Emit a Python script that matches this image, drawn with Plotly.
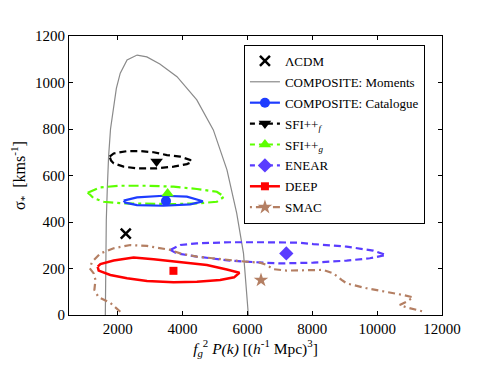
import plotly.graph_objects as go

# ---------------- data ----------------
lcdm_x = [2250]
lcdm_y = [350]

moments_x = [1620, 1630, 1650, 1680, 1720, 1780, 1870, 1960, 2080, 2290, 2600, 2900,
             3300, 3830, 4440, 4950, 5370, 5670, 5880, 6030]
moments_y = [0, 240, 410, 540, 680, 800, 900, 975, 1040, 1097, 1118, 1110,
             1080, 1025, 925, 796, 624, 438, 265, 0]

cat_x = [2185, 2597, 3415, 4135, 4628, 4237, 3415, 2597, 2237, 2185]
cat_y = [492, 506, 513, 509, 489, 476, 470, 473, 483, 492]
cat_pt = (3490, 490)

sfif_x = [1754, 1877, 2289, 2698, 3108, 3520, 3929, 4237, 4289, 4135, 3723, 3212,
          2597, 2185, 1877, 1797, 1754]
sfif_y = [681, 695, 705, 705, 700, 688, 681, 667, 659, 649, 638, 631, 631, 638, 652, 664, 681]
sfif_pt = (3200, 660)

sfig_x = [1077, 1468, 2083, 2905, 3723, 4443, 5058, 5283, 5058, 4443, 3723, 2905,
          2185, 1569, 1262, 1160, 1077]
sfig_y = [526, 549, 556, 556, 552, 542, 530, 509, 487, 480, 477, 477, 480, 487, 502, 516, 526]
sfig_pt = (3540, 523)

enear_x = [3622, 3929, 4443, 5468, 6492, 7622, 8031, 9058, 9877, 10268, 9775, 9058,
           8031, 7006, 6492, 5468, 4443, 3828, 3622]
enear_y = [280, 301, 308, 313, 313, 311, 305, 294, 277, 258, 244, 234, 225, 222,
           225, 234, 251, 265, 280]
enear_pt = (7200, 265)

deep_x = [1385, 1468, 1877, 2492, 3108, 3929, 4751, 5366, 5754, 5591, 5160, 4443,
          3723, 2905, 2289, 1775, 1415, 1385]
deep_y = [208, 219, 234, 247, 240, 229, 215, 196, 182, 162, 151, 143, 141, 146,
          158, 172, 191, 208]
deep_pt = (3720, 190)

smac_x = [2083, 1775, 1408, 1283, 1315, 1262, 1138, 1212, 1468, 1877, 2391, 2905,
          3622, 3929, 4443, 5160, 5982, 6391, 6597, 6800, 7212, 8338, 8646, 8905,
          9058, 9674, 10289, 10800, 11108, 10905, 10698, 10905, 11500]
smac_y = [14, 52, 77, 108, 151, 179, 201, 229, 265, 287, 301, 297, 280, 265, 251,
          240, 229, 225, 215, 197, 191, 194, 179, 151, 136, 115, 100, 86, 76, 57,
          43, 33, 12]
smac_pt = (6420, 150)

x_ticks = [2000, 4000, 6000, 8000, 10000, 12000]
x_ticklabels = ["2000", "4000", "6000", "8000", "10000", "12000"]
y_ticks = [0, 200, 400, 600, 800, 1000, 1200]
y_ticklabels = ["0", "200", "400", "600", "800", "1000", "1200"]

# ---------------- styles ----------------
C_CAT = "#1e3cff"
C_SFIF = "#000000"
C_SFIG = "#5cff00"
C_ENEAR = "#5a3cff"
C_DEEP = "#ff0000"
C_SMAC = "#b47f63"
C_MOM = "#8a8a8a"

FONT = "Times New Roman, Liberation Serif, DejaVu Serif, serif"

fig = go.Figure()

def contour(x, y, color, width, dash):
    fig.add_trace(go.Scatter(x=x, y=y, mode="lines", showlegend=False, hoverinfo="skip",
                             line=dict(color=color, width=width, dash=dash)))

def point(pt, color, symbol, size):
    fig.add_trace(go.Scatter(x=[pt[0]], y=[pt[1]], mode="markers", showlegend=False,
                             marker=dict(color=color, symbol=symbol, size=size,
                                         line=dict(width=0))))

def legend_entry(name, color, width, dash, symbol, size, group, mode="lines+markers"):
    fig.add_trace(go.Scatter(x=[None], y=[None], mode=mode, name=name, legendgroup=group,
                             line=dict(color=color, width=width, dash=dash),
                             marker=dict(color=color, symbol=symbol, size=size,
                                         line=dict(width=0))))

contour(moments_x, moments_y, C_MOM, 1.2, "solid")
contour(sfif_x, sfif_y, C_SFIF, 2.2, "7px,4px")
contour(sfig_x, sfig_y, C_SFIG, 2.2, "10px,4px,3px,4px")
contour(cat_x, cat_y, C_CAT, 2.2, "solid")
contour(enear_x, enear_y, C_ENEAR, 2.2, "7px,4px")
contour(smac_x, smac_y, C_SMAC, 2.2, "7px,4px,2px,4px")
contour(deep_x, deep_y, C_DEEP, 2.5, "solid")

point(sfif_pt, C_SFIF, "triangle-down", 11)
point(sfig_pt, C_SFIG, "triangle-up", 11)
point(cat_pt, C_CAT, "circle", 10)
point(enear_pt, C_ENEAR, "diamond", 11)
point(deep_pt, C_DEEP, "square", 8)
point(smac_pt, C_SMAC, "star", 11)
fig.add_trace(go.Scatter(x=lcdm_x, y=lcdm_y, mode="markers", showlegend=False,
                         marker=dict(color="black", symbol="x-thin", size=10,
                                     line=dict(width=2.5, color="black"))))

# legend entries
fig.add_trace(go.Scatter(x=[None], y=[None], mode="markers", name="ΛCDM", legendgroup="g1",
                         marker=dict(color="black", symbol="x-thin", size=10,
                                     line=dict(width=2.5, color="black"))))
legend_entry("COMPOSITE: Moments", C_MOM, 1.2, "solid", "circle", 1, "g2", mode="lines")
legend_entry("COMPOSITE: Catalogue", C_CAT, 2.2, "solid", "circle", 10, "g3")
legend_entry("SFI++<sub><i>f</i></sub>", C_SFIF, 2.2, "5px,4px", "triangle-down", 11, "g4")
legend_entry("SFI++<sub><i>g</i></sub>", C_SFIG, 2.2, "5px,4px", "triangle-up", 11, "g5")
legend_entry("ENEAR", C_ENEAR, 2.2, "5px,4px", "diamond", 11, "g6")
legend_entry("DEEP", C_DEEP, 2.5, "solid", "square", 8, "g7")
legend_entry("SMAC", C_SMAC, 2.2, "2px,4px,7px,4px", "star", 11, "g8")

axis_common = dict(showgrid=False, zeroline=False, showline=True, linecolor="black",
                   linewidth=1, mirror="ticks", ticks="inside", ticklen=4,
                   tickcolor="black", automargin=False,
                   tickfont=dict(family=FONT, size=15, color="black"))

fig.update_layout(
    width=483, height=360,
    margin=dict(l=61, r=49, t=28, b=53),
    paper_bgcolor="white", plot_bgcolor="white",
    font=dict(family=FONT, color="black"),
    xaxis=dict(range=[500, 12000], tickvals=x_ticks, ticktext=x_ticklabels,
               title=dict(text="<i>f</i><sub><i>g</i></sub><sup>2</sup> <i>P(k)</i> [(<i>h</i><sup>-1</sup> Mpc)<sup>3</sup>]",
                          font=dict(family=FONT, size=15.5), standoff=2),
               **axis_common),
    yaxis=dict(range=[0, 1200], tickvals=y_ticks, ticktext=y_ticklabels,
               title=dict(text="σ<sub>*</sub>  [kms<sup>-1</sup>]",
                          font=dict(family=FONT, size=16), standoff=12),
               **axis_common),
    legend=dict(x=0.469, y=0.968, xanchor="left", yanchor="top",
                bgcolor="white", bordercolor="black", borderwidth=1,
                font=dict(family=FONT, size=13, color="black"),
                tracegroupgap=1, itemwidth=30, groupclick="toggleitem"),
    showlegend=True,
)

fig.write_html("out.html")
